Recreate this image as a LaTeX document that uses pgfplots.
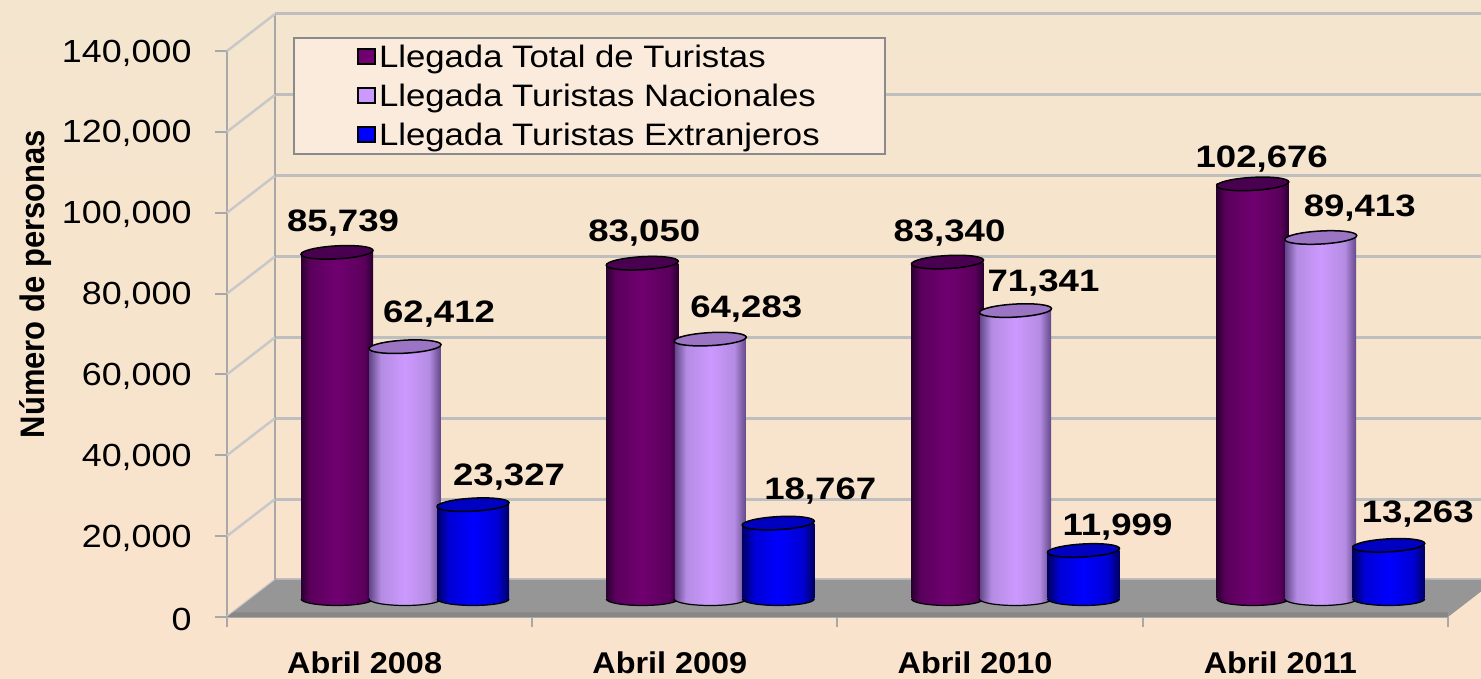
\documentclass[border=0pt]{standalone}
\usepackage{fontspec}
\setmainfont{Liberation Sans}
\newfontfamily\tickf[FakeStretch=1.12]{Liberation Sans}
\newfontfamily\lblf[FakeStretch=1.18]{Liberation Sans Bold}
\newfontfamily\catf[FakeStretch=1.08]{Liberation Sans Bold}
\newfontfamily\ylf[FakeStretch=0.91]{Liberation Sans Bold}
\usepackage{pgfplots}
\usepackage{pgfplotstable}
\usetikzlibrary{calc}
\pgfplotsset{compat=1.18}
\definecolor{bgtop}{HTML}{F4E5CE}
\definecolor{bgbot}{HTML}{FAE3CC}
\definecolor{gridc}{HTML}{BEBEBE}
\definecolor{wallc}{HTML}{A8A8A8}
\definecolor{diagc}{HTML}{C8C8C8}
\definecolor{floorc}{HTML}{969696}
\definecolor{lipc}{HTML}{868686}
\definecolor{legbg}{HTML}{FBEBDC}
\definecolor{legbd}{HTML}{8A8A8A}
\definecolor{purA}{HTML}{2A0030}\definecolor{purB}{HTML}{5A005C}\definecolor{purC}{HTML}{700070}\definecolor{purT}{HTML}{4A0050}
\definecolor{lavA}{HTML}{64488A}\definecolor{lavB}{HTML}{B48CE2}\definecolor{lavC}{HTML}{CC99FF}\definecolor{lavT}{HTML}{9C74C4}
\definecolor{bluA}{HTML}{000060}\definecolor{bluB}{HTML}{0000D4}\definecolor{bluC}{HTML}{0000FF}\definecolor{bluT}{HTML}{0000C0}
\pgfdeclarehorizontalshading{purcyl}{100bp}{color(0bp)=(purA);color(25bp)=(purA);color(31bp)=(purB);color(50bp)=(purC);color(69bp)=(purB);color(75bp)=(purA);color(100bp)=(purA)}
\pgfdeclarehorizontalshading{lavcyl}{100bp}{color(0bp)=(lavA);color(25bp)=(lavA);color(33bp)=(lavB);color(50bp)=(lavC);color(67bp)=(lavB);color(75bp)=(lavA);color(100bp)=(lavA)}
\pgfdeclarehorizontalshading{blucyl}{100bp}{color(0bp)=(bluA);color(25bp)=(bluA);color(33bp)=(bluB);color(50bp)=(bluC);color(67bp)=(bluB);color(75bp)=(bluA);color(100bp)=(bluA)}
\newcommand\cylbot[2]{\pgfdeclareplotmark{#1}{\path[shade,shading=#2,draw=black,line width=1.2pt,rotate=3] (-36pt,0pt) arc[start angle=180,end angle=360,x radius=36pt,y radius=6.5pt];}}
\cylbot{purbot}{purcyl}\cylbot{lavbot}{lavcyl}\cylbot{blubot}{blucyl}
\pgfdeclareplotmark{cyltop}{\pgfpathellipse{\pgfpointorigin}{\pgfqpoint{36pt}{2pt}}{\pgfqpoint{-0.35pt}{6.5pt}}\pgfusepathqfillstroke}
\pgfplotstableread{
x total base
0.5 85739 0
1.5 83050 0
2.5 83340 0
3.5 102676 0
}\tabTotal
\pgfplotstableread{
x nac base
0.5 62412 0
1.5 64283 0
2.5 71341 0
3.5 89413 0
}\tabNac
\pgfplotstableread{
x ext base
0.5 23327 0
1.5 18767 0
2.5 11999 0
3.5 13263 0
}\tabExt
% one shaded bar per row, so that each cylinder has its own gradient: table, column, shading, shift, width, row, row+1
\newcommand\cyl[7]{\addplot[ybar,bar shift=#4,bar width=#5,draw=none,shade,shading=#3,forget plot,
   skip coords between index={0}{#6},skip coords between index={#7}{4}] table[x=x,y=#2] {#1};}
\newcommand\lbl[5]{\node[font=\fontsize{31}{34}\selectfont\lblf,text=black,inner sep=0pt,xshift=#4pt,yshift=#5pt] at (axis cs:#1,#2) {#3};}
\begin{document}
\begin{tikzpicture}[x=1pt,y=1pt]
\path[use as bounding box,clip] (0,0) rectangle (1481,679);
\fill[top color=bgtop,bottom color=bgbot] (0,0) rectangle (1481,679);
% back wall
\begin{axis}[at={(275pt,99pt)},anchor=south west,scale only axis,width=1221pt,height=566pt,
  xmin=0,xmax=4,ymin=0,ymax=140000,axis x line=none,axis y line=left,axis line style={-,draw=wallc,line width=2.5pt},
  xtick=\empty,ytick distance=20000,yticklabels={},major tick length=0pt,scaled y ticks=false,
  ymajorgrids,grid style={draw=gridc,line width=3pt}]
\end{axis}
% front axis with ticks, floor
\begin{axis}[at={(227pt,62pt)},anchor=south west,scale only axis,width=1221pt,height=566pt,clip=false,
  xmin=0,xmax=4,ymin=0,ymax=140000,axis lines=left,
  axis line style={-,draw=wallc,line width=2.5pt},
  tick style={draw=wallc,line width=2pt},tick align=outside,major tick length=12pt,minor tick length=10pt,
  ytick distance=20000,
  xtick={0.5,1.5,2.5,3.5},minor xtick={0,1,2,3,4},major x tick style={draw=none},
  xticklabels={Abril 2008,Abril 2009,Abril 2010,Abril 2011},
  xticklabel style={font=\fontsize{30}{33}\selectfont\catf,xshift=-15pt,yshift=-19pt},
  yticklabel style={font=\fontsize{32}{36}\selectfont\tickf,/pgf/number format/assume math mode=true,xshift=-20pt,yshift=-2pt},
  /pgf/number format/.cd,1000 sep={,},fixed,precision=0,/tikz/.cd,
  scaled y ticks=false,
  ylabel={Número de personas},
  ylabel style={font=\fontsize{34}{38}\selectfont\ylf,at={(axis description cs:-0.157,0.588)},anchor=center}]
\pgfplotsinvokeforeach{0,20000,40000,60000,80000,100000,120000,140000}{
  \draw[diagc,line width=2.5pt] (axis cs:0,#1) -- ++(48pt,37pt);
}
\fill[floorc] (axis cs:0,0) -- ++(48pt,37pt) -- ++(1221pt,0pt) -- (axis cs:4,0) -- cycle;
\fill[lipc] (axis cs:0,0) -- ++(6pt,4.5pt) -- ($(axis cs:4,0)+(0pt,4.5pt)$) -- (axis cs:4,0) -- cycle;
\end{axis}
% cylinders
\begin{axis}[at={(252.4pt,80pt)},anchor=south west,scale only axis,width=1221pt,height=566pt,clip=false,clip mode=individual,
  xmin=0,xmax=4,ymin=0,ymax=140000,hide axis,
  legend cell align=left,
  legend style={at={(0.0333,0.993)},anchor=north west,draw=legbd,line width=2pt,fill=legbg,font=\fontsize{31}{34}\selectfont\tickf,
    inner xsep=4pt,inner ysep=0.5pt,row sep=2pt,
    nodes={inner sep=1pt,minimum height=37pt}}]
% series 1
\addplot[only marks,mark=purbot,mark options={xshift=-68pt},forget plot] table[x=x,y=base] {\tabTotal};
\cyl{\tabTotal}{total}{purcyl}{-68pt}{72pt}{0}{1}
\cyl{\tabTotal}{total}{purcyl}{-68pt}{72pt}{1}{2}
\cyl{\tabTotal}{total}{purcyl}{-68pt}{72pt}{2}{3}
\cyl{\tabTotal}{total}{purcyl}{-68pt}{72pt}{3}{4}
\addplot[only marks,mark=cyltop,mark options={xshift=-68pt,fill=purT,draw=black,line width=1.5pt},
  legend image code/.code={\path[draw=none] (-62pt,0pt) -- (18pt,0pt);\draw[fill=purC,draw=black,line width=2pt] (-2pt,-7.5pt) rectangle (15pt,7.5pt);}] table[x=x,y=total] {\tabTotal};
\addlegendentry{Llegada Total de Turistas}
% series 2
\addplot[only marks,mark=lavbot,forget plot] table[x=x,y=base] {\tabNac};
\cyl{\tabNac}{nac}{lavcyl}{0pt}{71pt}{0}{1}
\cyl{\tabNac}{nac}{lavcyl}{0pt}{71pt}{1}{2}
\cyl{\tabNac}{nac}{lavcyl}{0pt}{71pt}{2}{3}
\cyl{\tabNac}{nac}{lavcyl}{0pt}{71pt}{3}{4}
\addplot[only marks,mark=cyltop,mark options={fill=lavT,draw=black,line width=1.5pt},
  legend image code/.code={\path[draw=none] (-62pt,0pt) -- (18pt,0pt);\draw[fill=lavC,draw=black,line width=2pt] (-2pt,-7.5pt) rectangle (15pt,7.5pt);}] table[x=x,y=nac] {\tabNac};
\addlegendentry{Llegada Turistas Nacionales}
% series 3
\addplot[only marks,mark=blubot,mark options={xshift=68pt},forget plot] table[x=x,y=base] {\tabExt};
\cyl{\tabExt}{ext}{blucyl}{68pt}{72pt}{0}{1}
\cyl{\tabExt}{ext}{blucyl}{68pt}{72pt}{1}{2}
\cyl{\tabExt}{ext}{blucyl}{68pt}{72pt}{2}{3}
\cyl{\tabExt}{ext}{blucyl}{68pt}{72pt}{3}{4}
\addplot[only marks,mark=cyltop,mark options={xshift=68pt,fill=bluT,draw=black,line width=1.5pt},
  legend image code/.code={\path[draw=none] (-62pt,0pt) -- (18pt,0pt);\draw[fill=bluC,draw=black,line width=2pt] (-2pt,-7.5pt) rectangle (15pt,7.5pt);}] table[x=x,y=ext] {\tabExt};
\addlegendentry{Llegada Turistas Extranjeros\hspace*{60pt}}
% data labels: offset from the group centre and top of the value
\lbl{0.5}{85739}{85,739}{-62}{29}
\lbl{0.5}{62412}{62,412}{34}{33}
\lbl{0.5}{23327}{23,327}{104}{28}
\lbl{1.5}{83050}{83,050}{-66}{30}
\lbl{1.5}{64283}{64,283}{36}{30}
\lbl{1.5}{18767}{18,767}{110}{32}
\lbl{2.5}{83340}{83,340}{-66}{29}
\lbl{2.5}{71341}{71,341}{28}{27}
\lbl{2.5}{11999}{11,999}{102}{23}
\lbl{3.5}{102676}{102,676}{-59}{25}
\lbl{3.5}{89413}{89,413}{39}{29}
\lbl{3.5}{13263}{13,263}{97}{31}
\end{axis}
\end{tikzpicture}
\end{document}
